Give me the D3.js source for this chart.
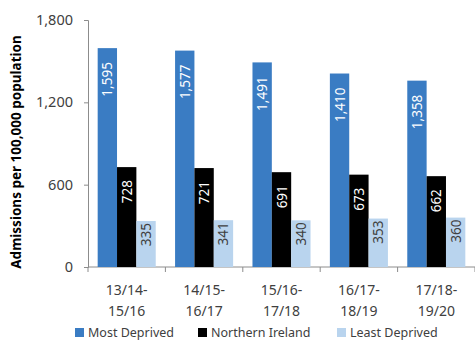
<!DOCTYPE html>
<html><head><meta charset="utf-8">
<script src="https://cdn.jsdelivr.net/npm/d3@7"></script>
<style>body{margin:0;background:#fff}svg{display:block}</style>
</head><body>
<svg id="c" width="475" height="340"></svg>
<script>
const categories = [["13/14-","15/16"],["14/15-","16/17"],["15/16-","17/18"],["16/17-","18/19"],["17/18-","19/20"]];
const seriesNames = ["Most Deprived","Northern Ireland","Least Deprived"];
const mostDeprived = [1595,1577,1491,1410,1358];
const northernIreland = [728,721,691,673,662];
const leastDeprived = [335,341,340,353,360];
const yTicks = [0,600,1200,1800];
const colors = ["#3a7cc3","#000000","#b9d4ee"];
const labelColors = ["#ffffff","#ffffff","#404040"];
const labelOffsets = [14,13,2];

const series = [mostDeprived, northernIreland, leastDeprived];
const svg = d3.select("#c");
const font = "'Noto Sans', sans-serif";
const x0 = 88, x1 = 475, yTop = 20, yBot = 267;

const x = d3.scaleBand().domain(d3.range(categories.length)).range([x0, x1]).paddingInner(0.25).paddingOuter(0.125);
const xs = d3.scaleBand().domain(d3.range(series.length)).range([0, x.bandwidth()]);
const y = d3.scaleLinear().domain([0,1800]).range([yBot, yTop]);

// y axis
const ya = svg.append("g").attr("transform",`translate(${x0},0)`)
  .call(d3.axisLeft(y).tickValues(yTicks).tickSize(4).tickPadding(11).tickFormat(d3.format(",")));
ya.select(".domain").attr("stroke","#8c8c8c");
ya.selectAll(".tick line").attr("stroke","#8c8c8c");
ya.selectAll("text").attr("font-family",font).attr("font-size",14.5).attr("fill","#404040");

// x axis baseline and ticks between categories
const step = x.step();
const xa = svg.append("g");
xa.append("line").attr("x1",x0).attr("x2",x1).attr("y1",yBot).attr("y2",yBot).attr("stroke","#8c8c8c");
xa.selectAll("line.t").data(d3.range(categories.length+1)).join("line").attr("class","t")
  .attr("x1",i=>x0+i*step).attr("x2",i=>x0+i*step).attr("y1",yBot).attr("y2",yBot+5).attr("stroke","#8c8c8c");
xa.selectAll("text").data(categories).join("text")
  .attr("x",(d,i)=>x(i)+x.bandwidth()/2).attr("y",295)
  .attr("text-anchor","middle").attr("font-family",font).attr("font-size",14).attr("fill","#404040")
  .each(function(d){
    const t=d3.select(this);
    t.append("tspan").attr("x",t.attr("x")).attr("dy",0).text(d[0]);
    t.append("tspan").attr("x",t.attr("x")).attr("dy",21).text(d[1]);
  });

// bars
series.forEach((vals,s)=>{
  const g = svg.append("g");
  g.selectAll("rect").data(vals).join("rect")
    .attr("x",(d,i)=>x(i)+xs(s)).attr("width",xs.bandwidth())
    .attr("y",d=>y(d)).attr("height",d=>yBot-y(d)).attr("fill",colors[s]);
  g.selectAll("text").data(vals).join("text")
    .attr("transform",(d,i)=>`translate(${x(i)+xs(s)+xs.bandwidth()/2+5},${y(d)+labelOffsets[s]}) rotate(-90)`)
    .attr("text-anchor","end").attr("font-family",font).attr("font-size",13.5)
    .attr("fill",labelColors[s]).text(d=>d3.format(",")(d));
});

// y label
svg.append("text").attr("transform",`translate(21,152) rotate(-90)`)
  .attr("text-anchor","middle").attr("font-family",font).attr("font-size",13.5).attr("font-weight","bold")
  .attr("fill","#000").text("Admissions per 100,000 population");

// legend
const legX = [75,198,337];
const lg = svg.append("g");
seriesNames.forEach((n,s)=>{
  lg.append("rect").attr("x",legX[s]).attr("y",328).attr("width",9).attr("height",9).attr("fill",colors[s]);
  lg.append("text").attr("x",legX[s]+13).attr("y",337).attr("font-family",font).attr("font-size",12.5)
    .attr("fill","#404040").text(n);
});
</script>
</body></html>
